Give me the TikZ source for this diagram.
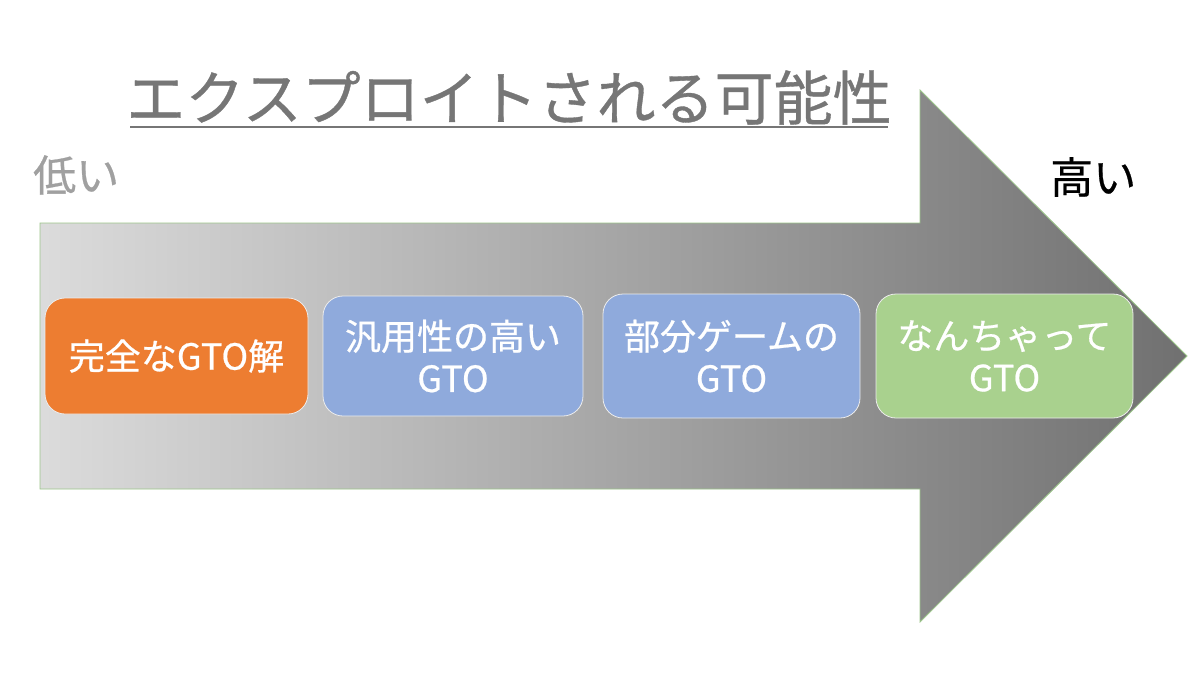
\documentclass[tikz,border=0pt]{standalone}
\usepackage{fontspec}
\newfontfamily\jp{Noto Sans CJK JP}
\newfontfamily\jpm[FakeBold=0.6]{Noto Sans CJK JP}
\definecolor{titlegray}{HTML}{767676}
\definecolor{lowgray}{HTML}{A0A0A0}
\definecolor{boxorange}{HTML}{ED7D31}
\definecolor{boxblue}{HTML}{8FAADC}
\definecolor{boxgreen}{HTML}{A9D18E}
\definecolor{edgegreen}{HTML}{9CC68A}
\tikzset{
  stagebox/.style={draw=white!85!gray, line width=0.8pt, rounded corners=20pt, minimum height=118pt, text=white, align=center, font=\jpm\fontsize{36}{42}\selectfont, inner sep=0pt},
}
\begin{document}
\begin{tikzpicture}[x=1pt,y=-1pt]
\useasboundingbox (0,0) rectangle (1200,675);
\fill[white] (0,0) rectangle (1200,675);
% big arrow
\shade[left color=black!14, right color=black!56, draw=edgegreen, line width=0.8pt]
  (40,223) -- (920,223) -- (920,90) -- (1187,356) -- (920,622) -- (920,489) -- (40,489) -- cycle;
% title
\node[text=titlegray, font=\jpm\fontsize{59}{62}\selectfont, anchor=base, inner sep=0pt] (title) at (509,120) {エクスプロイトされる可能性};
\draw[titlegray, line width=2.5pt] (130,127) -- (888,127);
% low / high
\node[text=lowgray, font=\jpm\fontsize{43}{45}\selectfont, anchor=west, inner sep=0pt] (low) at (33,175) {低い};
\node[text=black, font=\jpm\fontsize{43}{45}\selectfont, anchor=west, inner sep=0pt] (high) at (1050,177) {高い};
% boxes
\node[stagebox, fill=boxorange, minimum width=263pt, minimum height=116pt] (b1) at (176.5,356) {完全なGTO解};
\node[stagebox, fill=boxblue, minimum width=260pt, minimum height=120pt] (b2) at (453,356) {汎用性の高い\\GTO};
\node[stagebox, fill=boxblue, minimum width=257pt, minimum height=124pt] (b3) at (731.5,356) {部分ゲームの\\GTO};
\node[stagebox, fill=boxgreen, minimum width=257pt, minimum height=124pt] (b4) at (1004.5,356) {なんちゃって\\GTO};
\end{tikzpicture}
\end{document}
